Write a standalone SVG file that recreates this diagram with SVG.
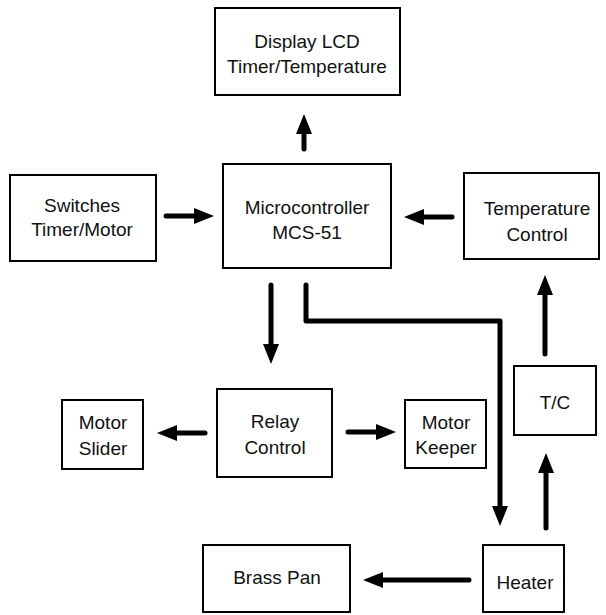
<svg xmlns="http://www.w3.org/2000/svg" width="606" height="615" viewBox="0 0 606 615">
<defs>
<style>
.box{fill:#fff;stroke:#000;stroke-width:2}
.lbl{font-family:"Liberation Sans",Arial,sans-serif;font-size:19px;fill:#111;text-anchor:middle}
.arr{fill:none;stroke:#000;stroke-width:5;stroke-linecap:round;stroke-linejoin:round}
</style>
<marker id="ah" viewBox="0 0 20 16" refX="1" refY="8" markerWidth="20" markerHeight="16" markerUnits="userSpaceOnUse" orient="auto">
<path d="M0,0 L20,8 L0,16 z" fill="#000"/>
</marker>
</defs>
<rect width="606" height="615" fill="#fff"/>
<g id="display"><rect class="box" x="215" y="8" width="185" height="87"/><text class="lbl" x="307" y="48">Display LCD</text><text class="lbl" x="307" y="73">Timer/Temperature</text></g>
<g id="switches"><rect class="box" x="10" y="175" width="146" height="86"/><text class="lbl" x="82" y="212">Switches</text><text class="lbl" x="82" y="236">Timer/Motor</text></g>
<g id="micro"><rect class="box" x="223" y="164" width="168" height="104"/><text class="lbl" x="307" y="214">Microcontroller</text><text class="lbl" x="307" y="239">MCS-51</text></g>
<g id="temp"><rect class="box" x="464" y="173" width="135" height="86"/><text class="lbl" x="537" y="215">Temperature</text><text class="lbl" x="537" y="241">Control</text></g>
<g id="relay"><rect class="box" x="217" y="389" width="115" height="88"/><text class="lbl" x="275" y="428">Relay</text><text class="lbl" x="275" y="454">Control</text></g>
<g id="slider"><rect class="box" x="62" y="400" width="81" height="69"/><text class="lbl" x="103" y="429">Motor</text><text class="lbl" x="103" y="455">Slider</text></g>
<g id="keeper"><rect class="box" x="405" y="400" width="81" height="68"/><text class="lbl" x="446" y="429">Motor</text><text class="lbl" x="446" y="454">Keeper</text></g>
<g id="tc"><rect class="box" x="514" y="366" width="82" height="69"/><text class="lbl" x="555" y="409">T/C</text></g>
<g id="brass"><rect class="box" x="203" y="545" width="147" height="67"/><text class="lbl" x="277" y="584">Brass Pan</text></g>
<g id="heater"><rect class="box" x="483" y="545" width="81" height="67"/><text class="lbl" x="525" y="589">Heater</text></g>
<g id="connectors">
<path class="arr" d="M304,149 V133" marker-end="url(#ah)"/>
<path class="arr" d="M166,216 H195" marker-end="url(#ah)"/>
<path class="arr" d="M452,217 H423" marker-end="url(#ah)"/>
<path class="arr" d="M271,285 V345" marker-end="url(#ah)"/>
<path class="arr" d="M306,285 V321 H500 V507" marker-end="url(#ah)"/>
<path class="arr" d="M546,528 V472" marker-end="url(#ah)"/>
<path class="arr" d="M545,354 V294" marker-end="url(#ah)"/>
<path class="arr" d="M205,433 H176" marker-end="url(#ah)"/>
<path class="arr" d="M348,432 H377" marker-end="url(#ah)"/>
<path class="arr" d="M469,580 H382" marker-end="url(#ah)"/>
</g>
</svg>
